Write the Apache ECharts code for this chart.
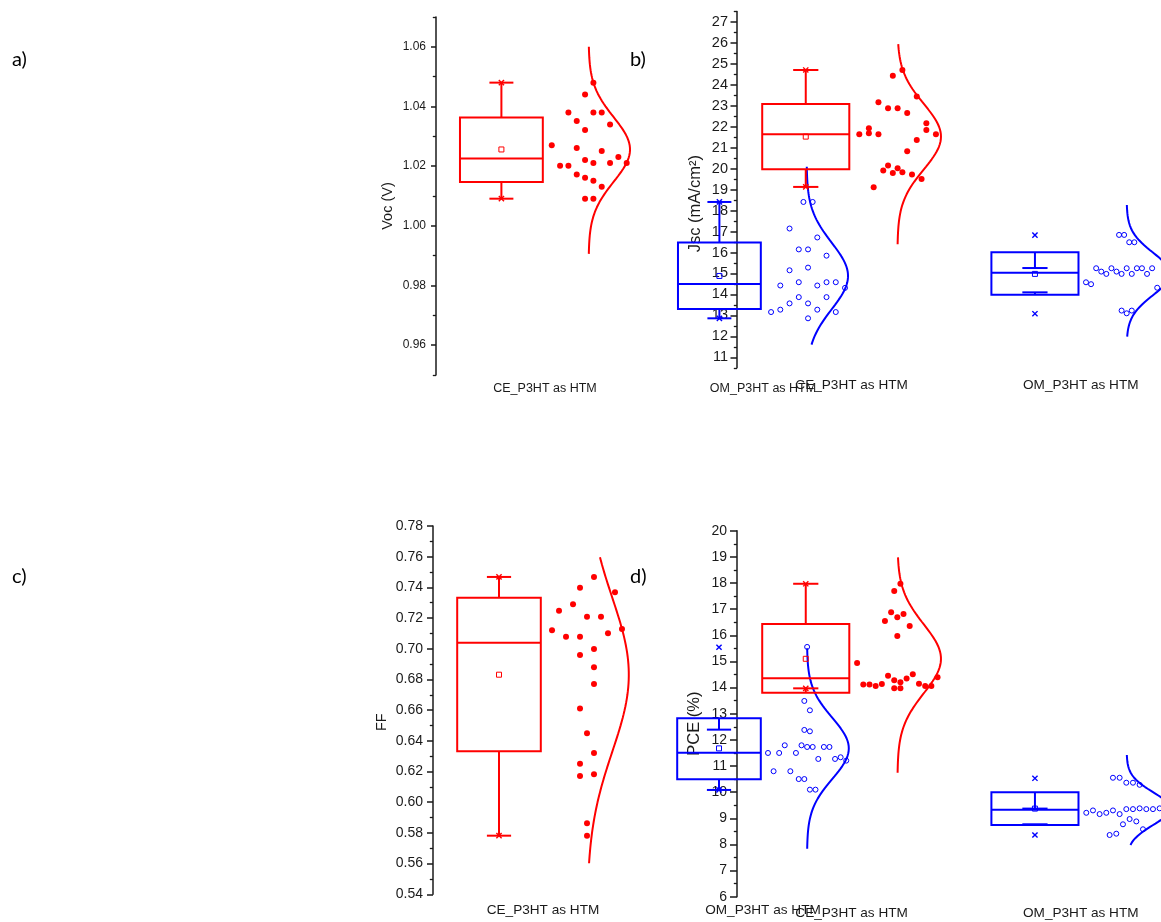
<!DOCTYPE html>
<html>
<head>
<meta charset="utf-8">
<script src="https://cdn.jsdelivr.net/npm/echarts@6/dist/echarts.min.js"></script>
<style>
  html, body { margin: 0; padding: 0; background: #ffffff; }
  #chart { width: 1161px; height: 922px; }
</style>
</head>
<body>
<div id="chart"></div>
<script>
// ---------- data ----------
const categories = ['CE_P3HT as HTM', 'OM_P3HT as HTM'];

// Open-circuit voltage, Voc (V)
const vocTicks = [0.96, 0.98, 1.00, 1.02, 1.04, 1.06];
const vocCE = [1.0480, 1.0440, 1.0380, 1.0380, 1.0380, 1.0351, 1.0340, 1.0321, 1.0270, 1.0261, 1.0251, 1.0231,
               1.0221, 1.0211, 1.0211, 1.0211, 1.0201, 1.0201, 1.0172, 1.0161, 1.0151, 1.0131, 1.0091, 1.0091];
const vocCELane = [5, 4, 2, 5, 6, 3, 7, 4, 0, 3, 6, 8, 4, 5, 7, 9, 1, 2, 3, 4, 5, 6, 4, 5];
const vocCEBox = [1.0091, 1.0147, 1.0226, 1.0363, 1.0480];   // whisker lo, box lo, median, box hi, whisker hi
const vocCEMean = 1.0256;
const vocCEExtremes = [1.0091, 1.0480];
const vocCECurve = [0.9906, 1.0600];

const vocOM = [1.0080, 1.0080, 0.9991, 0.9961, 0.9921, 0.9921, 0.9900, 0.9851, 0.9860, 0.9811, 0.9800, 0.9800,
               0.9811, 0.9811, 0.9792, 0.9761, 0.9740, 0.9761, 0.9711, 0.9719, 0.9740, 0.9719, 0.9711, 0.9690];
const vocOMLane = [7, 9, 4, 10, 6, 8, 12, 4, 8, 6, 2, 10, 12, 14, 16, 6, 8, 12, 0, 2, 4, 10, 14, 8];
const vocOMBox = [0.9690, 0.9721, 0.9805, 0.9944, 1.0080];
const vocOMMean = 0.9832;
const vocOMExtremes = [0.9690, 1.0080];
const vocOMCurve = [0.9602, 1.0198];

// Short-circuit current density, Jsc (mA/cm2)
const jscTicks = [11, 12, 13, 14, 15, 16, 17, 18, 19, 20, 21, 22, 23, 24, 25, 26, 27];
const jscCE = [24.71, 24.44, 23.44, 23.17, 22.88, 22.88, 22.66, 22.17, 21.85, 21.93, 21.69, 21.64,
               21.64, 21.64, 21.37, 20.83, 20.15, 20.02, 19.91, 19.83, 19.80, 19.72, 19.51, 19.11];
const jscCELane = [9, 7, 12, 4, 6, 8, 10, 14, 14, 2, 2, 0, 4, 16, 12, 10, 6, 8, 5, 9, 7, 11, 13, 3];
const jscCEBox = [19.13, 19.97, 21.64, 23.09, 24.71];
const jscCEMean = 21.53;
const jscCEExtremes = [19.13, 24.71];
const jscCECurve = [16.39, 25.94];

const jscOM = [16.84, 16.84, 16.49, 16.49, 15.25, 15.25, 15.25, 15.25, 15.25, 15.25, 15.09,
               15.09, 14.98, 14.98, 14.98, 14.98, 14.58, 14.49, 14.32, 13.23, 13.23, 13.10];
const jscOMLane = [13, 15, 17, 19, 4, 10, 16, 20, 22, 26, 6, 12, 8, 14, 18, 24, 0, 2, 28, 14, 18, 16];
const jscOMBox = [14.10, 13.98, 15.03, 16.01, 15.26];
const jscOMMean = 14.98;
const jscOMExtremes = [13.08, 16.83];
const jscOMCurve = [11.99, 18.27];

// Fill factor, FF
const ffTicks = [0.54, 0.56, 0.58, 0.60, 0.62, 0.64, 0.66, 0.68, 0.70, 0.72, 0.74, 0.76, 0.78];
const ffCE = [0.7468, 0.7398, 0.7368, 0.7290, 0.7248, 0.7209, 0.7209, 0.7120, 0.7129, 0.7101, 0.7079, 0.7079,
              0.6999, 0.6959, 0.6879, 0.6770, 0.6610, 0.6449, 0.6321, 0.6251, 0.6171, 0.6182, 0.5863, 0.5782];
const ffCELane = [6, 4, 9, 3, 1, 5, 7, 0, 10, 8, 2, 4, 6, 4, 6, 6, 4, 5, 6, 4, 4, 6, 5, 5];
const ffCEBox = [0.5782, 0.6332, 0.7040, 0.7333, 0.7468];
const ffCEMean = 0.6831;
const ffCEExtremes = [0.5782, 0.7468];
const ffCECurve = [0.5602, 0.7596];

const ffOM = [0.7012, 0.6660, 0.6599, 0.6471, 0.6462, 0.6371, 0.6371, 0.6360, 0.6360, 0.6360, 0.6360, 0.6321,
              0.6321, 0.6321, 0.6282, 0.6282, 0.6293, 0.6271, 0.6202, 0.6202, 0.6151, 0.6151, 0.6082, 0.6082];
const ffOMLane = [14, 13, 15, 13, 15, 6, 12, 14, 16, 20, 22, 0, 4, 10, 18, 24, 26, 28, 2, 8, 11, 13, 15, 17];
const ffOMBox = [0.6080, 0.6150, 0.6323, 0.6547, 0.6473];
const ffOMMean = 0.6351;
const ffOMExtremes = [0.6080, 0.7010];
const ffOMCurve = [0.5697, 0.7003];

// Power conversion efficiency, PCE (%)
const pceTicks = [6, 7, 8, 9, 10, 11, 12, 13, 14, 15, 16, 17, 18, 19, 20];
const pceCE = [17.97, 17.69, 16.88, 16.81, 16.69, 16.55, 16.35, 15.97, 14.94, 14.51, 14.45, 14.39,
               14.35, 14.28, 14.20, 14.15, 14.14, 14.12, 14.12, 14.06, 14.06, 14.06, 13.97, 13.97];
const pceCELane = [14, 12, 11, 15, 13, 9, 17, 13, 0, 18, 10, 26, 16, 12, 14, 20, 8, 2, 4, 6, 22, 24, 12, 14];
const pceCEBox = [13.97, 13.80, 14.36, 16.43, 17.97];
const pceCEMean = 15.10;
const pceCEExtremes = [13.97, 17.97];
const pceCECurve = [10.74, 18.98];

const pceOM = [9.21, 9.21, 9.30, 9.30, 9.16, 9.16, 9.35, 9.35, 9.35, 9.35, 9.38, 9.38,
               10.55, 10.55, 10.36, 10.36, 10.28, 8.77, 8.97, 8.88, 8.36, 8.41, 8.58];
const pceOMLane = [0, 6, 2, 8, 4, 10, 12, 14, 18, 20, 16, 22, 8, 10, 12, 14, 16, 11, 13, 15, 7, 9, 17];
const pceOMBox = [8.77, 8.74, 9.33, 10.00, 9.37];
const pceOMMean = 9.37;
const pceOMExtremes = [8.36, 10.53];
const pceOMCurve = [7.98, 11.42];

// ---------- styling ----------
const RED = '#ff0000';
const BLUE = '#0000ff';
const INK = '#1a1a1a';
const FONT = '"Liberation Sans", Arial, Helvetica, sans-serif';

// offsets in category units, relative to each category position
const BOX_OFFSET = -0.2, BOX_HALF = 0.19, CAP_HALF = 0.055;
const CURVE_BASE = 0.2, CURVE_AMP = 0.19, CURVE_STEPS = 160;

function minorOf(ticks) {
  const step = ticks[1] - ticks[0];
  const out = [+(ticks[0] - step / 2).toFixed(4)];
  ticks.forEach(t => out.push(+(t + step / 2).toFixed(4)));
  return out;
}

const panels = [
  {
    label: 'a)', labelPos: [12, 50],
    grid: { left: 436, top: 17, width: 436, height: 358 }, xMax: 2.5,
    y: { min: 0.95, max: 1.07, ticks: vocTicks, fmt: v => v.toFixed(2), name: 'Voc (V)',
         tickFont: 12, majorLen: 5, labelMargin: 10, nameFont: 14.5, nameGap: 41, namePad: 20 },
    catFont: 12.5, catMargin: 7,
    groups: [
      { cat: 1, color: RED, filled: true, values: vocCE, lanes: vocCELane, laneStart: 0.031, laneStep: 0.0382,
        box: vocCEBox, mean: vocCEMean, extremes: vocCEExtremes, curve: vocCECurve },
      { cat: 2, color: BLUE, filled: false, values: vocOM, lanes: vocOMLane, laneStart: 0.037, laneStep: 0.0212,
        box: vocOMBox, mean: vocOMMean, extremes: vocOMExtremes, curve: vocOMCurve }
    ]
  },
  {
    label: 'b)', labelPos: [630, 50],
    grid: { left: 737, top: 11.5, right: 0, height: 356.3 }, xMax: 2.35,
    y: { min: 10.5, max: 27.5, ticks: jscTicks, fmt: v => String(v), name: 'Jsc (mA/cm\u00B2)',
         tickFont: 14.5, majorLen: 6.5, labelMargin: 9, nameFont: 16.5, nameGap: 33, namePad: 28 },
    catFont: 13.6, catMargin: 10.5,
    groups: [
      { cat: 1, color: RED, filled: true, values: jscCE, lanes: jscCELane, laneStart: 0.0336, laneStep: 0.0209,
        box: jscCEBox, mean: jscCEMean, extremes: jscCEExtremes, curve: jscCECurve },
      { cat: 2, color: BLUE, filled: false, values: jscOM, lanes: jscOMLane, laneStart: 0.0227, laneStep: 0.0111,
        box: jscOMBox, mean: jscOMMean, extremes: jscOMExtremes, curve: jscOMCurve }
    ]
  },
  {
    label: 'c)', labelPos: [12, 567],
    grid: { left: 433, top: 526, width: 440, height: 368.3 }, xMax: 2.5,
    y: { min: 0.54, max: 0.78, ticks: ffTicks, fmt: v => v.toFixed(2), name: 'FF',
         tickFont: 14, majorLen: 6, labelMargin: 10, nameFont: 14.5, nameGap: 44, namePad: 24 },
    catFont: 13.6, catMargin: 9,
    groups: [
      { cat: 1, color: RED, filled: true, values: ffCE, lanes: ffCELane, laneStart: 0.041, laneStep: 0.0318,
        box: ffCEBox, mean: ffCEMean, extremes: ffCEExtremes, curve: ffCECurve },
      { cat: 2, color: BLUE, filled: false, values: ffOM, lanes: ffOMLane, laneStart: 0.0227, laneStep: 0.0127,
        box: ffOMBox, mean: ffOMMean, extremes: ffOMExtremes, curve: ffOMCurve }
    ]
  },
  {
    label: 'd)', labelPos: [630, 567],
    grid: { left: 737, top: 530.7, right: 0, height: 366 }, xMax: 2.35,
    y: { min: 6, max: 20, ticks: pceTicks, fmt: v => String(v), name: 'PCE (%)',
         tickFont: 14, majorLen: 7, labelMargin: 10, nameFont: 16.5, nameGap: 34, namePad: 20 },
    catFont: 13.6, catMargin: 9.5,
    groups: [
      { cat: 1, color: RED, filled: true, values: pceCE, lanes: pceCELane, laneStart: 0.024, laneStep: 0.0135,
        box: pceCEBox, mean: pceCEMean, extremes: pceCEExtremes, curve: pceCECurve },
      { cat: 2, color: BLUE, filled: false, values: pceOM, lanes: pceOMLane, laneStart: 0.024, laneStep: 0.01455,
        box: pceOMBox, mean: pceOMMean, extremes: pceOMExtremes, curve: pceOMCurve }
    ]
  }
];

// ---------- box / whisker / mean / extreme marks ----------
function renderBox(color) {
  return function (params, api) {
    const c = api.value(0);
    const whLo = api.value(1), boxLo = api.value(2), med = api.value(3), boxHi = api.value(4), whHi = api.value(5);
    const mean = api.value(6), exLo = api.value(7), exHi = api.value(8);
    const bx = c + BOX_OFFSET;
    const P = (x, y) => api.coord([x, y]);
    const line = (a, b, w) => ({ type: 'line', shape: { x1: a[0], y1: a[1], x2: b[0], y2: b[1] },
                                 style: { stroke: color, lineWidth: w, fill: null } });
    const kids = [];
    const tl = P(bx - BOX_HALF, boxHi), br = P(bx + BOX_HALF, boxLo);
    kids.push({ type: 'rect', shape: { x: tl[0], y: tl[1], width: br[0] - tl[0], height: br[1] - tl[1] },
                style: { stroke: color, lineWidth: 2, fill: null } });
    kids.push(line(P(bx - BOX_HALF, med), P(bx + BOX_HALF, med), 2));
    // whiskers with caps
    kids.push(line(P(bx, boxHi), P(bx, whHi), 2));
    kids.push(line(P(bx - CAP_HALF, whHi), P(bx + CAP_HALF, whHi), 2));
    kids.push(line(P(bx, boxLo), P(bx, whLo), 2));
    kids.push(line(P(bx - CAP_HALF, whLo), P(bx + CAP_HALF, whLo), 2));
    // mean (hollow square)
    const m = P(bx, mean);
    kids.push({ type: 'rect', shape: { x: m[0] - 2.5, y: m[1] - 2.5, width: 5, height: 5 },
                style: { stroke: color, lineWidth: 1, fill: null } });
    // min / max crosses
    [exLo, exHi].forEach(v => {
      const p = P(bx, v), s = 2.6;
      kids.push(line([p[0] - s, p[1] - s], [p[0] + s, p[1] + s], 1.4));
      kids.push(line([p[0] - s, p[1] + s], [p[0] + s, p[1] - s], 1.4));
    });
    return { type: 'group', children: kids };
  };
}

// ---------- assemble ----------
const grids = [], xAxes = [], yAxes = [], series = [], graphics = [];

panels.forEach((p, i) => {
  grids.push(Object.assign({ containLabel: false, outerBoundsMode: 'none' }, p.grid));

  xAxes.push({
    gridIndex: i, type: 'value', min: 0.5, max: p.xMax,
    axisLine: { show: false }, axisTick: { show: false }, splitLine: { show: false },
    axisLabel: {
      customValues: [1, 2], margin: p.catMargin, color: INK, fontFamily: FONT, fontSize: p.catFont,
      formatter: v => categories[Math.round(v) - 1] || ''
    }
  });

  yAxes.push({
    gridIndex: i, type: 'value', position: 'left', min: p.y.min, max: p.y.max,
    axisLine: { show: true, lineStyle: { color: INK, width: 1.5 } },
    axisTick: { show: true, inside: false, length: p.y.majorLen, customValues: p.y.ticks,
                lineStyle: { color: INK, width: 1.5 } },
    axisLabel: { customValues: p.y.ticks, formatter: p.y.fmt, margin: p.y.labelMargin,
                 color: INK, fontFamily: FONT, fontSize: p.y.tickFont },
    splitLine: { show: false },
    name: p.y.name, nameLocation: 'middle', nameGap: p.y.nameGap,
    nameTextStyle: { color: INK, fontFamily: FONT, fontSize: p.y.nameFont, padding: [0, p.y.namePad, 0, 0] }
  });

  p.groups.forEach(g => {
    // scatter points, placed in jitter lanes beside the box
    series.push({
      type: 'scatter', xAxisIndex: i, yAxisIndex: i, clip: false, z: 3,
      symbol: 'circle', symbolSize: g.filled ? 6 : 5,
      itemStyle: g.filled
        ? { color: g.color, opacity: 1 }
        : { color: 'rgba(0,0,0,0)', borderColor: g.color, borderWidth: 1, opacity: 1 },
      emphasis: { disabled: true },
      data: g.values.map((v, k) => [g.cat + g.laneStart + g.lanes[k] * g.laneStep, v])
    });

    // box chart
    series.push({
      type: 'custom', xAxisIndex: i, yAxisIndex: i, z: 4, clip: false,
      renderItem: renderBox(g.color),
      data: [[g.cat].concat(g.box, [g.mean], g.extremes)]
    });

    // normal distribution curve from mean and SD (box spans mean +/- 1 SD)
    const mu = g.mean, sd = (g.box[3] - g.box[1]) / 2;
    const pts = [];
    for (let k = 0; k <= CURVE_STEPS; k++) {
      const y = g.curve[0] + (g.curve[1] - g.curve[0]) * k / CURVE_STEPS;
      const d = (y - mu) / sd;
      pts.push([g.cat + CURVE_BASE + CURVE_AMP * Math.exp(-0.5 * d * d), y]);
    }
    series.push({
      type: 'line', xAxisIndex: i, yAxisIndex: i, clip: false, z: 2,
      showSymbol: false, symbol: 'none', smooth: false,
      lineStyle: { color: g.color, width: 2 }, data: pts
    });
  });

  graphics.push({
    type: 'text', left: p.labelPos[0], top: p.labelPos[1],
    style: { text: p.label, font: '20px Lato, "Open Sans", sans-serif', fill: '#000' }
  });
});

// minor ticks on a second, label-less axis in each grid
panels.forEach((p, i) => {
  yAxes.push({
    gridIndex: i, type: 'value', position: 'left', offset: 0, min: p.y.min, max: p.y.max,
    axisLine: { show: false },
    axisTick: { show: true, inside: false, length: 3.2, customValues: minorOf(p.y.ticks),
                lineStyle: { color: INK, width: 1.3 } },
    axisLabel: { show: false }, splitLine: { show: false }
  });
});

const chart = echarts.init(document.getElementById('chart'), null, { renderer: 'canvas' });
chart.setOption({
  animation: false,
  backgroundColor: '#ffffff',
  textStyle: { fontFamily: FONT },
  grid: grids, xAxis: xAxes, yAxis: yAxes, series: series, graphic: graphics
});
</script>
</body>
</html>
